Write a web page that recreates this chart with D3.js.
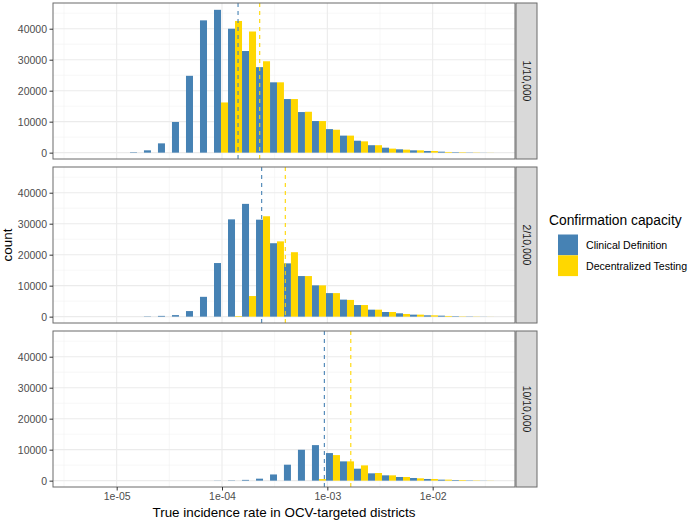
<!DOCTYPE html>
<html>
<head>
<meta charset="utf-8">
<script src="https://cdn.jsdelivr.net/npm/d3@7"></script>
<style>
  html, body { margin: 0; padding: 0; background: #fff; }
  svg { display: block; font-family: "Liberation Sans", Arial, Helvetica, sans-serif; }
</style>
</head>
<body>
<div id="chart"></div>
<script>
// ---------------- data ----------------
const panelLabels = ["1/10,000", "2/10,000", "10/10,000"];
const seriesNames = ["Clinical Definition", "Decentralized Testing"];
const seriesColors = ["#4682B4", "#FFD700"];

// log10 of histogram bin edges (shared bins, 26 drawn bins)
const binEdgesLog10 = [-4.873, -4.741, -4.608, -4.475, -4.342, -4.209, -4.076, -3.943, -3.810,
  -3.677, -3.544, -3.412, -3.279, -3.146, -3.013, -2.880, -2.747, -2.614, -2.481, -2.348,
  -2.215, -2.083, -1.950, -1.817, -1.684, -1.551, -1.418];

// counts per bin
const clinical1 = [150, 750, 3000, 9900, 24800, 42700, 46100, 40000, 32800, 27600, 22700, 17300, 13100,
  10200, 7600, 5500, 3850, 2400, 1600, 1080, 750, 540, 320, 160, 80, 30];
const decentral1 = [0, 0, 0, 0, 0, 0, 16200, 42500, 39100, 29500, 22700, 17300, 13200,
  10200, 7400, 5500, 3650, 2400, 1300, 970, 750, 540, 220, 150, 80, 30];
const clinical2 = [0, 100, 250, 500, 1800, 6400, 17300, 31400, 36400, 31300, 23700, 17200, 13100,
  10100, 7600, 5500, 3750, 2250, 1500, 1080, 650, 430, 320, 150, 80, 30];
const decentral2 = [0, 0, 0, 0, 0, 0, 0, 200, 6650, 32400, 24300, 20800, 13100,
  10100, 7600, 5400, 3750, 2250, 1500, 860, 650, 430, 220, 100, 60, 20];
const clinical3 = [0, 0, 0, 0, 0, 0, 50, 100, 250, 640, 2000, 5150, 9970,
  11470, 8900, 6220, 3860, 2360, 1715, 1180, 860, 540, 320, 200, 100, 40];
const decentral3 = [0, 0, 0, 0, 0, 0, 0, 0, 0, 0, 0, 0, 0,
  500, 8250, 6220, 4930, 2470, 1715, 1180, 750, 540, 320, 200, 100, 40];

// dashed reference lines (per panel)
const clinicalRef = [1.42e-4, 2.38e-4, 9.37e-4];
const decentralRef = [2.28e-4, 3.99e-4, 1.67e-3];

const xTicks = [1e-5, 1e-4, 1e-3, 1e-2];
const xTickLabels = ["1e-05", "1e-04", "1e-03", "1e-02"];
const xMinorLog10 = [-5.5, -4.5, -3.5, -2.5, -1.5];
const yTicks = [0, 10000, 20000, 30000, 40000];
const yMinor = [5000, 15000, 25000, 35000, 45000];

const xTitle = "True incidence rate in OCV-targeted districts";
const yTitle = "count";
const legendTitle = "Confirmation capacity";

// ---------------- layout ----------------
const W = 689, H = 523;
const panelLeft = 53, panelRight = 515;
const panelTops = [3, 167, 331];
const panelH = 156;
const stripW = 21, stripGap = 1;

const svg = d3.select("#chart").append("svg").attr("width", W).attr("height", H);

const x = d3.scaleLog()
  .domain([Math.pow(10, -5.6045), Math.pow(10, -1.2183)])
  .range([panelLeft, panelRight]);

const panelSeries = [[clinical1, decentral1], [clinical2, decentral2], [clinical3, decentral3]];
const refs = [clinicalRef, decentralRef];

panelTops.forEach((top, p) => {
  const y = d3.scaleLinear().domain([-2050, 48300]).range([top + panelH, top]);
  const g = svg.append("g");

  // background
  g.append("rect").attr("x", panelLeft).attr("y", top).attr("width", panelRight - panelLeft)
    .attr("height", panelH).attr("fill", "#fff");

  // minor grid
  yMinor.forEach(v => g.append("line").attr("x1", panelLeft).attr("x2", panelRight)
    .attr("y1", y(v)).attr("y2", y(v)).attr("stroke", "#F2F2F2").attr("stroke-width", 0.6));
  xMinorLog10.forEach(v => g.append("line").attr("x1", x(Math.pow(10, v))).attr("x2", x(Math.pow(10, v)))
    .attr("y1", top).attr("y2", top + panelH).attr("stroke", "#F2F2F2").attr("stroke-width", 0.6));
  // major grid
  yTicks.forEach(v => g.append("line").attr("x1", panelLeft).attr("x2", panelRight)
    .attr("y1", y(v)).attr("y2", y(v)).attr("stroke", "#EBEBEB").attr("stroke-width", 1.1));
  xTicks.forEach(v => g.append("line").attr("x1", x(v)).attr("x2", x(v))
    .attr("y1", top).attr("y2", top + panelH).attr("stroke", "#EBEBEB").attr("stroke-width", 1.1));

  // bars
  panelSeries[p].forEach((counts, s) => {
    counts.forEach((c, k) => {
      const lo = binEdgesLog10[k], hi = binEdgesLog10[k + 1], mid = (lo + hi) / 2;
      const a = s === 0 ? lo : mid, b = s === 0 ? mid : hi;
      const x0 = x(Math.pow(10, a)), x1 = x(Math.pow(10, b));
      g.append("rect").attr("x", x0).attr("width", x1 - x0)
        .attr("y", y(c)).attr("height", Math.max(0, y(0) - y(c)))
        .attr("fill", seriesColors[s]);
    });
  });

  // dashed reference lines
  refs.forEach((r, s) => {
    g.append("line").attr("x1", x(r[p])).attr("x2", x(r[p]))
      .attr("y1", top).attr("y2", top + panelH)
      .attr("stroke", seriesColors[s]).attr("stroke-width", 1.1)
      .attr("stroke-dasharray", "4,4");
  });

  // border
  g.append("rect").attr("x", panelLeft).attr("y", top).attr("width", panelRight - panelLeft)
    .attr("height", panelH).attr("fill", "none").attr("stroke", "#6b6b6b").attr("stroke-width", 1);

  // y axis
  const yAxis = d3.axisLeft(y).tickValues(yTicks).tickSize(3.5).tickPadding(2.5).tickFormat(d3.format("d"));
  const ya = svg.append("g").attr("transform", `translate(${panelLeft},0)`).call(yAxis);
  ya.select(".domain").remove();
  ya.selectAll(".tick line").attr("stroke", "#333");
  ya.selectAll(".tick text").attr("fill", "#4D4D4D").style("font-size", "10.5px")
    .style("font-family", "'Liberation Sans', Arial, sans-serif");

  // strip
  svg.append("rect").attr("x", panelRight + stripGap).attr("y", top).attr("width", stripW)
    .attr("height", panelH).attr("fill", "#D9D9D9").attr("stroke", "#6b6b6b").attr("stroke-width", 1);
  svg.append("text")
    .attr("transform", `translate(${panelRight + stripGap + stripW / 2},${top + panelH / 2}) rotate(90)`)
    .attr("text-anchor", "middle").attr("dy", "0.35em")
    .attr("fill", "#1A1A1A").style("font-size", "10.5px")
    .text(panelLabels[p]);

  // x axis on the bottom panel only
  if (p === panelTops.length - 1) {
    const xAxis = d3.axisBottom(x).tickValues(xTicks).tickSize(3.5).tickPadding(2.5)
      .tickFormat((d, i) => xTickLabels[i]);
    const xa = svg.append("g").attr("transform", `translate(0,${top + panelH})`).call(xAxis);
    xa.select(".domain").remove();
    xa.selectAll(".tick line").attr("stroke", "#333");
    xa.selectAll(".tick text").attr("fill", "#4D4D4D").style("font-size", "10.5px")
      .style("font-family", "'Liberation Sans', Arial, sans-serif");
  }
});

// axis titles
svg.append("text").attr("x", (panelLeft + panelRight) / 2).attr("y", 517)
  .attr("text-anchor", "middle").style("font-size", "13.4px").attr("fill", "#000").text(xTitle);
svg.append("text").attr("transform", `translate(12,245) rotate(-90)`)
  .attr("text-anchor", "middle").style("font-size", "13.4px").attr("fill", "#000").text(yTitle);

// legend
const lg = svg.append("g");
lg.append("text").attr("x", 549).attr("y", 225).style("font-size", "13.8px").attr("fill", "#000").text(legendTitle);
seriesNames.forEach((n, i) => {
  lg.append("rect").attr("x", 558).attr("y", 234.5 + i * 20.8).attr("width", 20).attr("height", 20.8)
    .attr("fill", seriesColors[i]);
  lg.append("text").attr("x", 586).attr("y", 245 + i * 20.8).attr("dy", "0.35em")
    .style("font-size", "10.6px").attr("fill", "#000").text(n);
});
</script>
</body>
</html>
